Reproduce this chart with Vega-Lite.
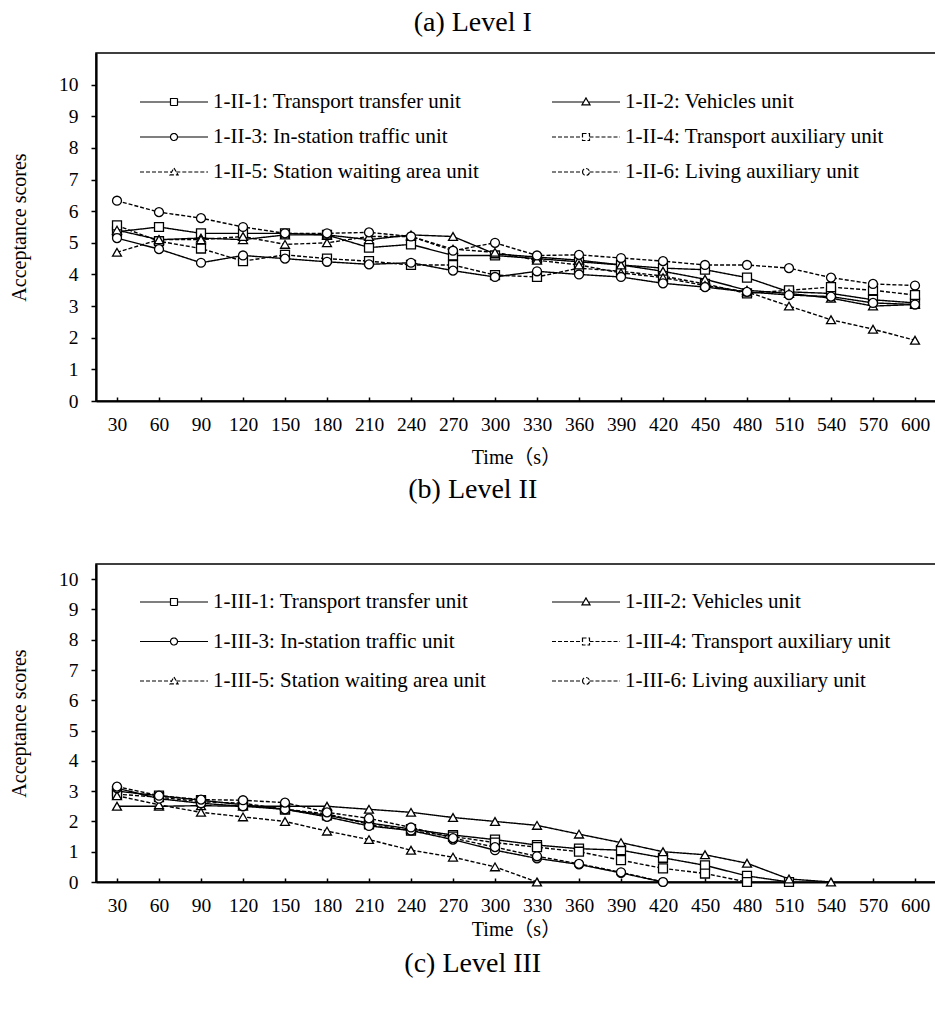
{
  "$schema": "https://vega.github.io/schema/vega-lite/v6.json",
  "padding": {"left": 8, "top": 8, "right": 0, "bottom": 0},
  "background": "white",
  "config": {
    "font": "Liberation Serif",
    "view": {"stroke": "black", "strokeWidth": 1.5},
    "axis": {"grid": false, "domainColor": "black", "domainWidth": 2.2, "tickColor": "black", "tickWidth": 1.5, "labelColor": "black", "titleColor": "black", "labelFont": "Liberation Serif", "titleFont": "Liberation Serif, Noto Sans CJK SC", "labelFontSize": 19.5, "titleFontSize": 20, "titleFontWeight": "normal"},
    "title": {"font": "Liberation Serif", "fontSize": 28, "fontWeight": "normal", "color": "black", "anchor": "middle", "frame": "bounds"},
    "point": {"filled": true, "fill": "white", "stroke": "black", "strokeWidth": 1.3, "size": 80, "opacity": 1}
  },
  "datasets": {
    "lv2": [
      {"t": 30, "s": "1-II-1: Transport transfer unit", "v": 5.35},
      {"t": 60, "s": "1-II-1: Transport transfer unit", "v": 5.5},
      {"t": 90, "s": "1-II-1: Transport transfer unit", "v": 5.3},
      {"t": 120, "s": "1-II-1: Transport transfer unit", "v": 5.3},
      {"t": 150, "s": "1-II-1: Transport transfer unit", "v": 5.3},
      {"t": 180, "s": "1-II-1: Transport transfer unit", "v": 5.25},
      {"t": 210, "s": "1-II-1: Transport transfer unit", "v": 4.85},
      {"t": 240, "s": "1-II-1: Transport transfer unit", "v": 4.95},
      {"t": 270, "s": "1-II-1: Transport transfer unit", "v": 4.6},
      {"t": 300, "s": "1-II-1: Transport transfer unit", "v": 4.6},
      {"t": 330, "s": "1-II-1: Transport transfer unit", "v": 4.5},
      {"t": 360, "s": "1-II-1: Transport transfer unit", "v": 4.4},
      {"t": 390, "s": "1-II-1: Transport transfer unit", "v": 4.3},
      {"t": 420, "s": "1-II-1: Transport transfer unit", "v": 4.2},
      {"t": 450, "s": "1-II-1: Transport transfer unit", "v": 4.15},
      {"t": 480, "s": "1-II-1: Transport transfer unit", "v": 3.9},
      {"t": 510, "s": "1-II-1: Transport transfer unit", "v": 3.45},
      {"t": 540, "s": "1-II-1: Transport transfer unit", "v": 3.4},
      {"t": 570, "s": "1-II-1: Transport transfer unit", "v": 3.2},
      {"t": 600, "s": "1-II-1: Transport transfer unit", "v": 3.1},
      {"t": 30, "s": "1-II-2: Vehicles unit", "v": 5.4},
      {"t": 60, "s": "1-II-2: Vehicles unit", "v": 5.1},
      {"t": 90, "s": "1-II-2: Vehicles unit", "v": 5.15},
      {"t": 120, "s": "1-II-2: Vehicles unit", "v": 5.1},
      {"t": 150, "s": "1-II-2: Vehicles unit", "v": 5.25},
      {"t": 180, "s": "1-II-2: Vehicles unit", "v": 5.25},
      {"t": 210, "s": "1-II-2: Vehicles unit", "v": 5.1},
      {"t": 240, "s": "1-II-2: Vehicles unit", "v": 5.25},
      {"t": 270, "s": "1-II-2: Vehicles unit", "v": 5.2},
      {"t": 300, "s": "1-II-2: Vehicles unit", "v": 4.65},
      {"t": 330, "s": "1-II-2: Vehicles unit", "v": 4.55},
      {"t": 360, "s": "1-II-2: Vehicles unit", "v": 4.45},
      {"t": 390, "s": "1-II-2: Vehicles unit", "v": 4.3},
      {"t": 420, "s": "1-II-2: Vehicles unit", "v": 4.1},
      {"t": 450, "s": "1-II-2: Vehicles unit", "v": 3.85},
      {"t": 480, "s": "1-II-2: Vehicles unit", "v": 3.5},
      {"t": 510, "s": "1-II-2: Vehicles unit", "v": 3.4},
      {"t": 540, "s": "1-II-2: Vehicles unit", "v": 3.25},
      {"t": 570, "s": "1-II-2: Vehicles unit", "v": 3.0},
      {"t": 600, "s": "1-II-2: Vehicles unit", "v": 3.05},
      {"t": 30, "s": "1-II-3: In-station traffic unit", "v": 5.15},
      {"t": 60, "s": "1-II-3: In-station traffic unit", "v": 4.8},
      {"t": 90, "s": "1-II-3: In-station traffic unit", "v": 4.37},
      {"t": 120, "s": "1-II-3: In-station traffic unit", "v": 4.6},
      {"t": 150, "s": "1-II-3: In-station traffic unit", "v": 4.5},
      {"t": 180, "s": "1-II-3: In-station traffic unit", "v": 4.4},
      {"t": 210, "s": "1-II-3: In-station traffic unit", "v": 4.32},
      {"t": 240, "s": "1-II-3: In-station traffic unit", "v": 4.37},
      {"t": 270, "s": "1-II-3: In-station traffic unit", "v": 4.12},
      {"t": 300, "s": "1-II-3: In-station traffic unit", "v": 3.92},
      {"t": 330, "s": "1-II-3: In-station traffic unit", "v": 4.1},
      {"t": 360, "s": "1-II-3: In-station traffic unit", "v": 4.0},
      {"t": 390, "s": "1-II-3: In-station traffic unit", "v": 3.92},
      {"t": 420, "s": "1-II-3: In-station traffic unit", "v": 3.72},
      {"t": 450, "s": "1-II-3: In-station traffic unit", "v": 3.6},
      {"t": 480, "s": "1-II-3: In-station traffic unit", "v": 3.45},
      {"t": 510, "s": "1-II-3: In-station traffic unit", "v": 3.35},
      {"t": 540, "s": "1-II-3: In-station traffic unit", "v": 3.3},
      {"t": 570, "s": "1-II-3: In-station traffic unit", "v": 3.1},
      {"t": 600, "s": "1-II-3: In-station traffic unit", "v": 3.05},
      {"t": 30, "s": "1-II-4: Transport auxiliary unit", "v": 5.55},
      {"t": 60, "s": "1-II-4: Transport auxiliary unit", "v": 5.05},
      {"t": 90, "s": "1-II-4: Transport auxiliary unit", "v": 4.82},
      {"t": 120, "s": "1-II-4: Transport auxiliary unit", "v": 4.42},
      {"t": 150, "s": "1-II-4: Transport auxiliary unit", "v": 4.62},
      {"t": 180, "s": "1-II-4: Transport auxiliary unit", "v": 4.5},
      {"t": 210, "s": "1-II-4: Transport auxiliary unit", "v": 4.42},
      {"t": 240, "s": "1-II-4: Transport auxiliary unit", "v": 4.3},
      {"t": 270, "s": "1-II-4: Transport auxiliary unit", "v": 4.3},
      {"t": 300, "s": "1-II-4: Transport auxiliary unit", "v": 3.98},
      {"t": 330, "s": "1-II-4: Transport auxiliary unit", "v": 3.92},
      {"t": 360, "s": "1-II-4: Transport auxiliary unit", "v": 4.2},
      {"t": 390, "s": "1-II-4: Transport auxiliary unit", "v": 4.1},
      {"t": 420, "s": "1-II-4: Transport auxiliary unit", "v": 3.95},
      {"t": 450, "s": "1-II-4: Transport auxiliary unit", "v": 3.7},
      {"t": 480, "s": "1-II-4: Transport auxiliary unit", "v": 3.4},
      {"t": 510, "s": "1-II-4: Transport auxiliary unit", "v": 3.5},
      {"t": 540, "s": "1-II-4: Transport auxiliary unit", "v": 3.6},
      {"t": 570, "s": "1-II-4: Transport auxiliary unit", "v": 3.5},
      {"t": 600, "s": "1-II-4: Transport auxiliary unit", "v": 3.35},
      {"t": 30, "s": "1-II-5: Station waiting area unit", "v": 4.7},
      {"t": 60, "s": "1-II-5: Station waiting area unit", "v": 5.1},
      {"t": 90, "s": "1-II-5: Station waiting area unit", "v": 5.1},
      {"t": 120, "s": "1-II-5: Station waiting area unit", "v": 5.2},
      {"t": 150, "s": "1-II-5: Station waiting area unit", "v": 4.95},
      {"t": 180, "s": "1-II-5: Station waiting area unit", "v": 5.0},
      {"t": 210, "s": "1-II-5: Station waiting area unit", "v": 5.2},
      {"t": 240, "s": "1-II-5: Station waiting area unit", "v": 5.2},
      {"t": 270, "s": "1-II-5: Station waiting area unit", "v": 4.8},
      {"t": 300, "s": "1-II-5: Station waiting area unit", "v": 4.7},
      {"t": 330, "s": "1-II-5: Station waiting area unit", "v": 4.45},
      {"t": 360, "s": "1-II-5: Station waiting area unit", "v": 4.3},
      {"t": 390, "s": "1-II-5: Station waiting area unit", "v": 4.05},
      {"t": 420, "s": "1-II-5: Station waiting area unit", "v": 3.9},
      {"t": 450, "s": "1-II-5: Station waiting area unit", "v": 3.65},
      {"t": 480, "s": "1-II-5: Station waiting area unit", "v": 3.45},
      {"t": 510, "s": "1-II-5: Station waiting area unit", "v": 3.0},
      {"t": 540, "s": "1-II-5: Station waiting area unit", "v": 2.57},
      {"t": 570, "s": "1-II-5: Station waiting area unit", "v": 2.27},
      {"t": 600, "s": "1-II-5: Station waiting area unit", "v": 1.92},
      {"t": 30, "s": "1-II-6: Living auxiliary unit", "v": 6.33},
      {"t": 60, "s": "1-II-6: Living auxiliary unit", "v": 5.97},
      {"t": 90, "s": "1-II-6: Living auxiliary unit", "v": 5.78},
      {"t": 120, "s": "1-II-6: Living auxiliary unit", "v": 5.5},
      {"t": 150, "s": "1-II-6: Living auxiliary unit", "v": 5.3},
      {"t": 180, "s": "1-II-6: Living auxiliary unit", "v": 5.3},
      {"t": 210, "s": "1-II-6: Living auxiliary unit", "v": 5.33},
      {"t": 240, "s": "1-II-6: Living auxiliary unit", "v": 5.2},
      {"t": 270, "s": "1-II-6: Living auxiliary unit", "v": 4.75},
      {"t": 300, "s": "1-II-6: Living auxiliary unit", "v": 5.0},
      {"t": 330, "s": "1-II-6: Living auxiliary unit", "v": 4.6},
      {"t": 360, "s": "1-II-6: Living auxiliary unit", "v": 4.62},
      {"t": 390, "s": "1-II-6: Living auxiliary unit", "v": 4.52},
      {"t": 420, "s": "1-II-6: Living auxiliary unit", "v": 4.42},
      {"t": 450, "s": "1-II-6: Living auxiliary unit", "v": 4.3},
      {"t": 480, "s": "1-II-6: Living auxiliary unit", "v": 4.3},
      {"t": 510, "s": "1-II-6: Living auxiliary unit", "v": 4.2},
      {"t": 540, "s": "1-II-6: Living auxiliary unit", "v": 3.9},
      {"t": 570, "s": "1-II-6: Living auxiliary unit", "v": 3.7},
      {"t": 600, "s": "1-II-6: Living auxiliary unit", "v": 3.65}
    ],
    "lv3": [
      {"t": 30, "s": "1-III-1: Transport transfer unit", "v": 3.0},
      {"t": 60, "s": "1-III-1: Transport transfer unit", "v": 2.85},
      {"t": 90, "s": "1-III-1: Transport transfer unit", "v": 2.7},
      {"t": 120, "s": "1-III-1: Transport transfer unit", "v": 2.55},
      {"t": 150, "s": "1-III-1: Transport transfer unit", "v": 2.4},
      {"t": 180, "s": "1-III-1: Transport transfer unit", "v": 2.2},
      {"t": 210, "s": "1-III-1: Transport transfer unit", "v": 1.95},
      {"t": 240, "s": "1-III-1: Transport transfer unit", "v": 1.75},
      {"t": 270, "s": "1-III-1: Transport transfer unit", "v": 1.55},
      {"t": 300, "s": "1-III-1: Transport transfer unit", "v": 1.4},
      {"t": 330, "s": "1-III-1: Transport transfer unit", "v": 1.22},
      {"t": 360, "s": "1-III-1: Transport transfer unit", "v": 1.1},
      {"t": 390, "s": "1-III-1: Transport transfer unit", "v": 1.05},
      {"t": 420, "s": "1-III-1: Transport transfer unit", "v": 0.8},
      {"t": 450, "s": "1-III-1: Transport transfer unit", "v": 0.55},
      {"t": 480, "s": "1-III-1: Transport transfer unit", "v": 0.2},
      {"t": 510, "s": "1-III-1: Transport transfer unit", "v": 0.0},
      {"t": 30, "s": "1-III-2: Vehicles unit", "v": 2.5},
      {"t": 60, "s": "1-III-2: Vehicles unit", "v": 2.5},
      {"t": 90, "s": "1-III-2: Vehicles unit", "v": 2.52},
      {"t": 120, "s": "1-III-2: Vehicles unit", "v": 2.5},
      {"t": 150, "s": "1-III-2: Vehicles unit", "v": 2.5},
      {"t": 180, "s": "1-III-2: Vehicles unit", "v": 2.5},
      {"t": 210, "s": "1-III-2: Vehicles unit", "v": 2.4},
      {"t": 240, "s": "1-III-2: Vehicles unit", "v": 2.3},
      {"t": 270, "s": "1-III-2: Vehicles unit", "v": 2.13},
      {"t": 300, "s": "1-III-2: Vehicles unit", "v": 2.0},
      {"t": 330, "s": "1-III-2: Vehicles unit", "v": 1.87},
      {"t": 360, "s": "1-III-2: Vehicles unit", "v": 1.58},
      {"t": 390, "s": "1-III-2: Vehicles unit", "v": 1.3},
      {"t": 420, "s": "1-III-2: Vehicles unit", "v": 1.0},
      {"t": 450, "s": "1-III-2: Vehicles unit", "v": 0.9},
      {"t": 480, "s": "1-III-2: Vehicles unit", "v": 0.62},
      {"t": 510, "s": "1-III-2: Vehicles unit", "v": 0.1},
      {"t": 540, "s": "1-III-2: Vehicles unit", "v": 0.0},
      {"t": 30, "s": "1-III-3: In-station traffic unit", "v": 3.1},
      {"t": 60, "s": "1-III-3: In-station traffic unit", "v": 2.75},
      {"t": 90, "s": "1-III-3: In-station traffic unit", "v": 2.6},
      {"t": 120, "s": "1-III-3: In-station traffic unit", "v": 2.5},
      {"t": 150, "s": "1-III-3: In-station traffic unit", "v": 2.4},
      {"t": 180, "s": "1-III-3: In-station traffic unit", "v": 2.15},
      {"t": 210, "s": "1-III-3: In-station traffic unit", "v": 1.85},
      {"t": 240, "s": "1-III-3: In-station traffic unit", "v": 1.7},
      {"t": 270, "s": "1-III-3: In-station traffic unit", "v": 1.4},
      {"t": 300, "s": "1-III-3: In-station traffic unit", "v": 1.05},
      {"t": 330, "s": "1-III-3: In-station traffic unit", "v": 0.78},
      {"t": 360, "s": "1-III-3: In-station traffic unit", "v": 0.58},
      {"t": 390, "s": "1-III-3: In-station traffic unit", "v": 0.3},
      {"t": 420, "s": "1-III-3: In-station traffic unit", "v": 0.0},
      {"t": 30, "s": "1-III-4: Transport auxiliary unit", "v": 2.9},
      {"t": 60, "s": "1-III-4: Transport auxiliary unit", "v": 2.8},
      {"t": 90, "s": "1-III-4: Transport auxiliary unit", "v": 2.65},
      {"t": 120, "s": "1-III-4: Transport auxiliary unit", "v": 2.6},
      {"t": 150, "s": "1-III-4: Transport auxiliary unit", "v": 2.4},
      {"t": 180, "s": "1-III-4: Transport auxiliary unit", "v": 2.25},
      {"t": 210, "s": "1-III-4: Transport auxiliary unit", "v": 1.9},
      {"t": 240, "s": "1-III-4: Transport auxiliary unit", "v": 1.7},
      {"t": 270, "s": "1-III-4: Transport auxiliary unit", "v": 1.5},
      {"t": 300, "s": "1-III-4: Transport auxiliary unit", "v": 1.3},
      {"t": 330, "s": "1-III-4: Transport auxiliary unit", "v": 1.15},
      {"t": 360, "s": "1-III-4: Transport auxiliary unit", "v": 1.0},
      {"t": 390, "s": "1-III-4: Transport auxiliary unit", "v": 0.72},
      {"t": 420, "s": "1-III-4: Transport auxiliary unit", "v": 0.45},
      {"t": 450, "s": "1-III-4: Transport auxiliary unit", "v": 0.28},
      {"t": 480, "s": "1-III-4: Transport auxiliary unit", "v": 0.0},
      {"t": 30, "s": "1-III-5: Station waiting area unit", "v": 2.85},
      {"t": 60, "s": "1-III-5: Station waiting area unit", "v": 2.55},
      {"t": 90, "s": "1-III-5: Station waiting area unit", "v": 2.3},
      {"t": 120, "s": "1-III-5: Station waiting area unit", "v": 2.15},
      {"t": 150, "s": "1-III-5: Station waiting area unit", "v": 2.0},
      {"t": 180, "s": "1-III-5: Station waiting area unit", "v": 1.68},
      {"t": 210, "s": "1-III-5: Station waiting area unit", "v": 1.4},
      {"t": 240, "s": "1-III-5: Station waiting area unit", "v": 1.05},
      {"t": 270, "s": "1-III-5: Station waiting area unit", "v": 0.82},
      {"t": 300, "s": "1-III-5: Station waiting area unit", "v": 0.5},
      {"t": 330, "s": "1-III-5: Station waiting area unit", "v": 0.0},
      {"t": 30, "s": "1-III-6: Living auxiliary unit", "v": 3.15},
      {"t": 60, "s": "1-III-6: Living auxiliary unit", "v": 2.85},
      {"t": 90, "s": "1-III-6: Living auxiliary unit", "v": 2.72},
      {"t": 120, "s": "1-III-6: Living auxiliary unit", "v": 2.7},
      {"t": 150, "s": "1-III-6: Living auxiliary unit", "v": 2.62},
      {"t": 180, "s": "1-III-6: Living auxiliary unit", "v": 2.3},
      {"t": 210, "s": "1-III-6: Living auxiliary unit", "v": 2.1},
      {"t": 240, "s": "1-III-6: Living auxiliary unit", "v": 1.8},
      {"t": 270, "s": "1-III-6: Living auxiliary unit", "v": 1.45},
      {"t": 300, "s": "1-III-6: Living auxiliary unit", "v": 1.15},
      {"t": 330, "s": "1-III-6: Living auxiliary unit", "v": 0.85},
      {"t": 360, "s": "1-III-6: Living auxiliary unit", "v": 0.6},
      {"t": 390, "s": "1-III-6: Living auxiliary unit", "v": 0.32},
      {"t": 420, "s": "1-III-6: Living auxiliary unit", "v": 0.0}
    ]
  },
  "title": {"text": "(c) Level III", "orient": "bottom", "offset": 10},
  "spacing": 6,
  "resolve": {"scale": {"strokeDash": "independent", "y": "independent"}, "legend": {"strokeDash": "independent"}},
  "vconcat": [
    {
      "title": {"text": "(a) Level I", "offset": 16},
      "width": 840,
      "height": 348,
      "data": {"name": "lv2"},
      "encoding": {
        "x": {"field": "t", "type": "ordinal", "scale": {"type": "point", "padding": 0.5, "domain": [30,60,90,120,150,180,210,240,270,300,330,360,390,420,450,480,510,540,570,600]}, "axis": {"title": "Time（s）", "labelAngle": 0, "tickSize": -4, "labelPadding": 18, "titlePadding": 14}},
        "y": {"field": "v", "type": "quantitative", "scale": {"domain": [0, 11], "nice": false}, "axis": {"title": "Acceptance scores", "values": [0,1,2,3,4,5,6,7,8,9,10], "tickSize": 5, "labelPadding": 13, "titlePadding": 29}}
      },
      "layer": [
        {
          "mark": {"type": "line", "color": "black", "strokeWidth": 1.4},
          "encoding": {
            "strokeDash": {"field": "s", "type": "nominal",
              "scale": {"domain": ["1-II-1: Transport transfer unit", "1-II-2: Vehicles unit", "1-II-3: In-station traffic unit", "1-II-4: Transport auxiliary unit", "1-II-5: Station waiting area unit", "1-II-6: Living auxiliary unit"], "range": [[1,0],[1,0],[1,0],[4,2],[4,2],[4,2]]},
              "legend": {"title": null, "orient": "none", "direction": "horizontal", "legendX": 43, "legendY": 38, "columns": 2, "columnPadding": 70, "rowPadding": 14, "labelFontSize": 21, "labelFont": "Liberation Serif", "labelColor": "black", "labelLimit": 600, "labelOffset": 28, "symbolOffset": 24, "symbolSize": 400, "symbolStrokeWidth": 1.2, "symbolStrokeColor": "black", "symbolFillColor": "white",
                "symbolType": {"expr": "['M-3.4,0H-0.35M0.35,0H3.4M-0.35,-0.35H0.35V0.35H-0.35Z','M-3.4,0H-0.23M0.23,0H3.4M0,-0.4L0.4,0.28H-0.4Z','M-3.4,0H-0.35M0.35,0H3.4M-0.35,0A0.35,0.35 0 1,0 0.35,0A0.35,0.35 0 1,0 -0.35,0Z'][datum.index % 3]"}}
            }
          }
        },
        {
          "transform": [{"filter": {"field": "s", "oneOf": ["1-II-1: Transport transfer unit", "1-II-4: Transport auxiliary unit"]}}],
          "mark": {"type": "point", "shape": "square"}
        },
        {
          "transform": [{"filter": {"field": "s", "oneOf": ["1-II-2: Vehicles unit", "1-II-5: Station waiting area unit"]}}],
          "mark": {"type": "point", "shape": "triangle-up"}
        },
        {
          "transform": [{"filter": {"field": "s", "oneOf": ["1-II-3: In-station traffic unit", "1-II-6: Living auxiliary unit"]}}],
          "mark": {"type": "point", "shape": "circle"}
        }
      ]
    },
    {
      "title": {"text": "(b) Level II", "offset": 60},
      "width": 840,
      "height": 318,
      "data": {"name": "lv3"},
      "encoding": {
        "x": {"field": "t", "type": "ordinal", "scale": {"type": "point", "padding": 0.5, "domain": [30,60,90,120,150,180,210,240,270,300,330,360,390,420,450,480,510,540,570,600]}, "axis": {"title": "Time（s）", "labelAngle": 0, "tickSize": -4, "labelPadding": 18, "titlePadding": 5}},
        "y": {"field": "v", "type": "quantitative", "scale": {"domain": [0, 10.5], "nice": false}, "axis": {"title": "Acceptance scores", "values": [0,1,2,3,4,5,6,7,8,9,10], "tickSize": 5, "labelPadding": 13, "titlePadding": 29}}
      },
      "layer": [
        {
          "mark": {"type": "line", "color": "black", "strokeWidth": 1.4},
          "encoding": {
            "strokeDash": {"field": "s", "type": "nominal",
              "scale": {"domain": ["1-III-1: Transport transfer unit", "1-III-2: Vehicles unit", "1-III-3: In-station traffic unit", "1-III-4: Transport auxiliary unit", "1-III-5: Station waiting area unit", "1-III-6: Living auxiliary unit"], "range": [[1,0],[1,0],[1,0],[4,2],[4,2],[4,2]]},
              "legend": {"title": null, "orient": "none", "direction": "horizontal", "legendX": 43, "legendY": 27, "columns": 2, "columnPadding": 63, "rowPadding": 18.5, "labelFontSize": 21, "labelFont": "Liberation Serif", "labelColor": "black", "labelLimit": 600, "labelOffset": 28, "symbolOffset": 24, "symbolSize": 400, "symbolStrokeWidth": 1.2, "symbolStrokeColor": "black", "symbolFillColor": "white",
                "symbolType": {"expr": "['M-3.4,0H-0.35M0.35,0H3.4M-0.35,-0.35H0.35V0.35H-0.35Z','M-3.4,0H-0.23M0.23,0H3.4M0,-0.4L0.4,0.28H-0.4Z','M-3.4,0H-0.35M0.35,0H3.4M-0.35,0A0.35,0.35 0 1,0 0.35,0A0.35,0.35 0 1,0 -0.35,0Z'][datum.index % 3]"}}
            }
          }
        },
        {
          "transform": [{"filter": {"field": "s", "oneOf": ["1-III-1: Transport transfer unit", "1-III-4: Transport auxiliary unit"]}}],
          "mark": {"type": "point", "shape": "square"}
        },
        {
          "transform": [{"filter": {"field": "s", "oneOf": ["1-III-2: Vehicles unit", "1-III-5: Station waiting area unit"]}}],
          "mark": {"type": "point", "shape": "triangle-up"}
        },
        {
          "transform": [{"filter": {"field": "s", "oneOf": ["1-III-3: In-station traffic unit", "1-III-6: Living auxiliary unit"]}}],
          "mark": {"type": "point", "shape": "circle"}
        }
      ]
    }
  ]
}
